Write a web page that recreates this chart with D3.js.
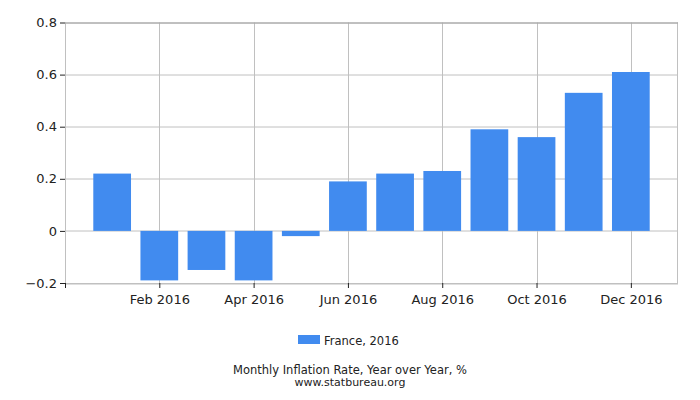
<!DOCTYPE html>
<html>
<head>
<meta charset="utf-8">
<script src="https://cdn.jsdelivr.net/npm/d3@7"></script>
<style>
  body { margin: 0; background: #fff; }
  text { font-family: "DejaVu Sans", sans-serif; }
</style>
</head>
<body>
<div id="chart"></div>
<script>
// Monthly inflation, France 2016
const months = ['Jan 2016', 'Feb 2016', 'Mar 2016', 'Apr 2016', 'May 2016', 'Jun 2016',
                'Jul 2016', 'Aug 2016', 'Sep 2016', 'Oct 2016', 'Nov 2016', 'Dec 2016'];
const values = [0.22, -0.19, -0.15, -0.19, -0.02, 0.19, 0.22, 0.23, 0.39, 0.36, 0.53, 0.61];
const yTicks = [-0.2, 0, 0.2, 0.4, 0.6, 0.8];
const seriesName = 'France, 2016';

const width = 700, height = 400;
const margin = { top: 22.5, right: 22, bottom: 117, left: 65 };
const innerW = width - margin.left - margin.right;
const innerH = height - margin.top - margin.bottom;

const svg = d3.select('#chart').append('svg')
    .attr('width', width)
    .attr('height', height);

const g = svg.append('g').attr('transform', `translate(${margin.left},${margin.top})`);

// months sit on integer positions, one empty slot before Jan
const x = d3.scaleLinear().domain([-1, 12]).range([0, innerW]);
const y = d3.scaleLinear().domain([-0.2, 0.8]).range([innerH, 0]);
const barW = (x(1) - x(0)) * 0.8;

// grid
g.append('g').selectAll('line')
    .data(yTicks)
    .join('line')
    .attr('x1', 0).attr('x2', innerW)
    .attr('y1', d => Math.round(y(d)) + 0.5).attr('y2', d => Math.round(y(d)) + 0.5)
    .attr('stroke', '#c0c0c0');

const labelIdx = d3.range(1, 12, 2);
g.append('g').selectAll('line')
    .data(labelIdx)
    .join('line')
    .attr('x1', d => Math.round(x(d)) + 0.5).attr('x2', d => Math.round(x(d)) + 0.5)
    .attr('y1', 0).attr('y2', innerH)
    .attr('stroke', '#c0c0c0');

// frame
g.append('line').attr('x1', 0.5).attr('x2', 0.5).attr('y1', 0).attr('y2', innerH).attr('stroke', '#c0c0c0');
g.append('line').attr('x1', innerW - 0.5).attr('x2', innerW - 0.5).attr('y1', 0).attr('y2', innerH).attr('stroke', '#c0c0c0');
g.append('line').attr('x1', 0).attr('x2', innerW).attr('y1', 0.5).attr('y2', 0.5).attr('stroke', '#a0a0a0');

// bars
g.append('g').selectAll('rect')
    .data(values)
    .join('rect')
    .attr('x', (d, i) => x(i) - barW / 2)
    .attr('width', barW)
    .attr('y', d => y(Math.max(0, d)))
    .attr('height', d => Math.abs(y(d) - y(0)))
    .attr('fill', '#418bef');

// y axis
const yAxis = g.append('g')
    .call(d3.axisLeft(y).tickValues(yTicks).tickSize(5).tickPadding(3)
        .tickFormat(d => d === 0 ? '0' : d3.format('.1f')(d)));
yAxis.select('.domain').remove();
yAxis.selectAll('line').attr('stroke', '#222');
yAxis.selectAll('text').attr('font-size', 13).attr('fill', '#222')
    .attr('font-family', '"DejaVu Sans", sans-serif');

// x axis
const xAxis = g.append('g')
    .attr('transform', `translate(0,${innerH})`)
    .call(d3.axisBottom(x).tickValues([-1].concat(labelIdx)).tickSize(5).tickPadding(7)
        .tickFormat(d => d < 0 ? '' : months[d]));
xAxis.select('.domain').attr('stroke', '#c0c0c0').attr('d', `M0,0.5H${innerW}`);
xAxis.selectAll('line').attr('stroke', '#222');
xAxis.selectAll('text').attr('font-size', 13).attr('fill', '#222')
    .attr('font-family', '"DejaVu Sans", sans-serif');

// legend
const legend = svg.append('g').attr('transform', 'translate(298,335)');
legend.append('rect').attr('width', 22).attr('height', 9).attr('fill', '#418bef');
legend.append('text').attr('x', 26).attr('y', 9.5)
    .attr('font-size', 11.5).attr('fill', '#222').text(seriesName);

// caption
svg.append('text').attr('x', 350).attr('y', 373.5).attr('text-anchor', 'middle')
    .attr('font-size', 11.5).attr('fill', '#222')
    .text('Monthly Inflation Rate, Year over Year, %');
svg.append('text').attr('x', 350).attr('y', 386).attr('text-anchor', 'middle')
    .attr('font-size', 11).attr('fill', '#222')
    .text('www.statbureau.org');
</script>
</body>
</html>
